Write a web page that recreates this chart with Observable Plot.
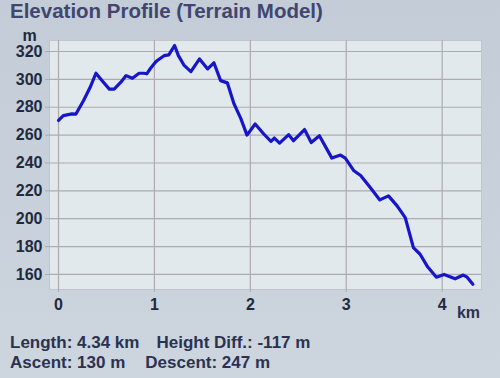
<!DOCTYPE html>
<html>
<head>
<meta charset="utf-8">
<script src="https://cdn.jsdelivr.net/npm/d3@7"></script>
<script src="https://cdn.jsdelivr.net/npm/@observablehq/plot@0.6"></script>
<style>
  html, body { margin: 0; padding: 0; }
  body {
    width: 500px; height: 378px; overflow: hidden; position: relative;
    background: linear-gradient(to bottom, #c3ccd7 0%, #c9d2dc 60%, #cdd5de 100%);
    font-family: "Liberation Sans", Arial, Helvetica, sans-serif;
  }
  #title {
    height: 26px; box-sizing: border-box; padding: 0 0 0 10px;
    font-size: 20.5px; font-weight: bold; color: #41466f; line-height: 22px;
  }
  #chart { height: 304px; position: relative; }
  #chart svg { display: block; }
  #km { position: absolute; right: 20px; top: 278px; font-size: 16px; font-weight: bold; color: #2b3250; }
  #footer {
    padding-left: 10px; font-size: 17px; font-weight: bold; color: #2b3250;
    line-height: 20px; margin-top: 3px;
  }
  #footer span + span { margin-left: 17px; }
</style>
</head>
<body>
<div id="title">Elevation Profile (Terrain Model)</div>
<div id="chart"><span id="km">km</span></div>
<div id="footer">
  <div><span>Length: 4.34 km</span><span>Height Diff.: -117 m</span></div>
  <div><span>Ascent: 130 m</span><span style="margin-left:20px">Descent: 247 m</span></div>
</div>
<script>
const distanceKm = [0.00, 0.05, 0.14, 0.18, 0.26, 0.33, 0.39, 0.455, 0.53, 0.58, 0.65, 0.705, 0.77, 0.84, 0.89, 0.92, 0.96, 1.01, 1.03, 1.10, 1.15, 1.21, 1.25, 1.31, 1.38, 1.47, 1.555, 1.62, 1.69, 1.76, 1.83, 1.90, 1.965, 2.05, 2.14, 2.215, 2.25, 2.305, 2.40, 2.45, 2.565, 2.635, 2.72, 2.85, 2.94, 2.99, 3.08, 3.15, 3.25, 3.35, 3.44, 3.53, 3.615, 3.70, 3.77, 3.85, 3.94, 4.02, 4.135, 4.22, 4.26, 4.32];
const elevationM = [270.5, 274, 275.2, 275, 284.7, 294.3, 304.4, 299, 293, 293, 298, 302.7, 300.8, 304.4, 304.4, 304, 308, 312.3, 313.5, 317, 317.6, 324.3, 317, 310, 305.6, 314.7, 307.5, 311.9, 299.1, 297.5, 282.4, 272, 260, 268, 260.8, 255.5, 257.9, 254.3, 260.3, 256, 264, 254.7, 259.6, 243.5, 245.7, 243.5, 234.4, 231, 222.4, 213.5, 216.4, 209.2, 200.8, 179.2, 174.5, 165.3, 158, 160, 156.9, 159.6, 158, 153];
const xTicks = [0, 1, 2, 3, 4];
const yTicks = [160, 180, 200, 220, 240, 260, 280, 300, 320];

const profile = distanceKm.map((d, i) => ({km: d, m: elevationM[i]}));

const chart = Plot.plot({
  width: 500,
  height: 304,
  marginLeft: 49,
  marginRight: 19,
  marginTop: 14,
  marginBottom: 41,
  style: {fontFamily: "'Liberation Sans', Arial, sans-serif", fontSize: "16px", fontWeight: "bold", color: "#1f2a40", background: "transparent", overflow: "visible"},
  x: {domain: [-0.094, 4.41]},
  y: {domain: [149.2, 327.9]},
  marks: [
    Plot.frame({fill: "#e1e9ec", stroke: "#c2c6cc"}),
    Plot.gridX(xTicks, {stroke: "#aeaab0", strokeOpacity: 1, strokeWidth: 1.2}),
    Plot.gridY(yTicks, {stroke: "#aeaab0", strokeOpacity: 1, strokeWidth: 1.2}),
    Plot.axisX(xTicks, {tickSize: 3, tickPadding: 6, stroke: "#aeaab0", label: null, fill: "#1f2a40", fontSize: 16}),
    Plot.axisY(yTicks, {tickSize: 4, tickPadding: 3, stroke: "#aeaab0", label: "m", labelAnchor: "top", labelArrow: "none", labelOffset: 27, fill: "#1f2a40", fontSize: 16}),
    Plot.line(profile, {x: "km", y: "m", stroke: "#1616c8", strokeWidth: 3.2, strokeLinejoin: "round", strokeLinecap: "round"})
  ]
});
document.getElementById("chart").appendChild(chart);
</script>
</body>
</html>
